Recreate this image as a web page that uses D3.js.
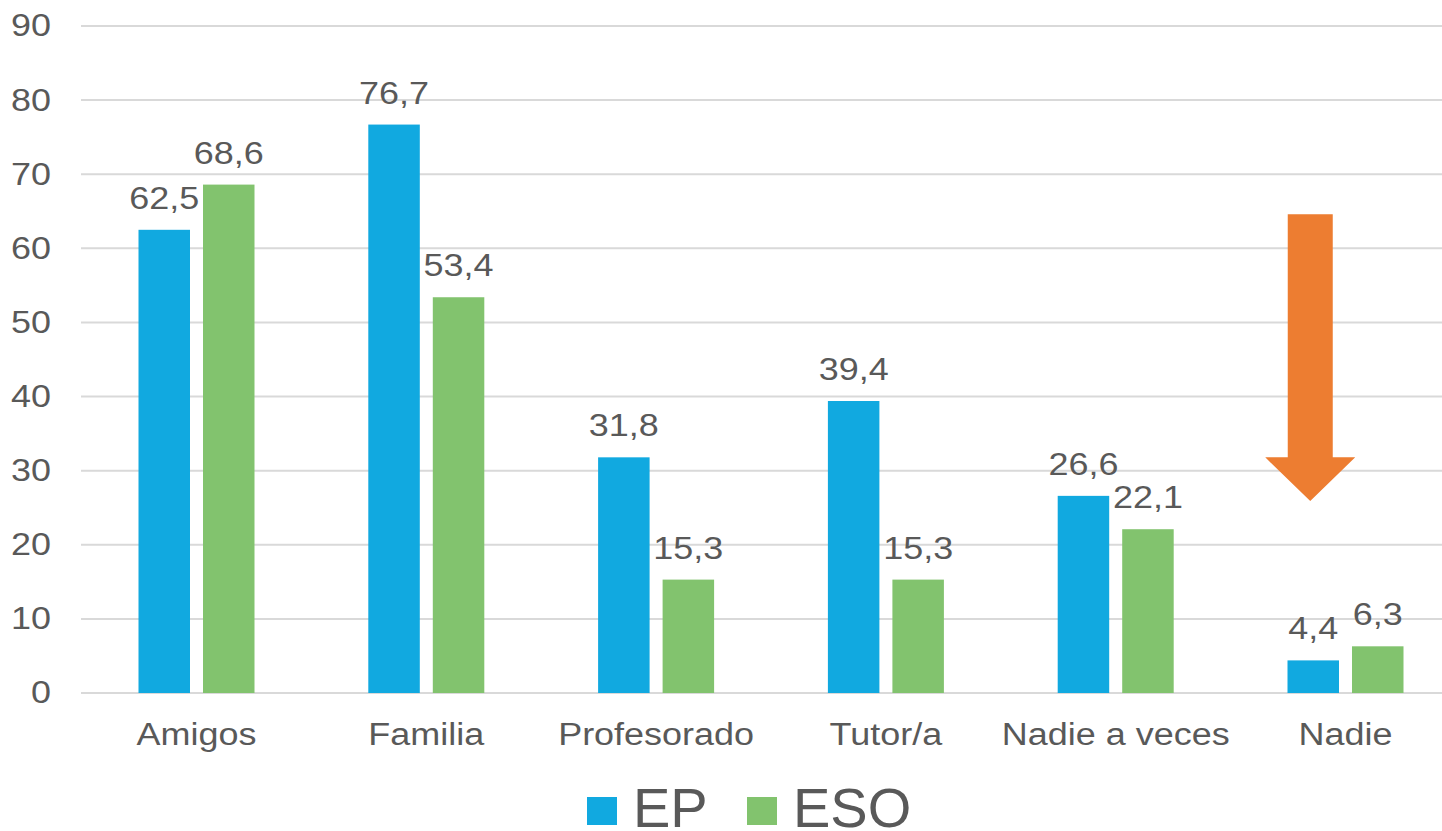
<!DOCTYPE html>
<html><head><meta charset="utf-8">
<script src="https://cdn.jsdelivr.net/npm/d3@7"></script>
<style>html,body{margin:0;padding:0;background:#fff;} svg{display:block;font-family:"Liberation Sans",Arial,sans-serif;}</style>
</head><body><div id="chart"></div>
<script>
const categories = ["Amigos","Familia","Profesorado","Tutor/a","Nadie a veces","Nadie"];
const seriesNames = ["EP","ESO"];
const EP = [62.5,76.7,31.8,39.4,26.6,4.4];
const ESO = [68.6,53.4,15.3,15.3,22.1,6.3];
const yTicks = [0,10,20,30,40,50,60,70,80,90];
const colors = {EP:"#11A9E0", ESO:"#82C36E"};
const arrowValues = {top:64.6, headTop:31.8, tip:25.9};

const W=1442,H=831, SX=1.16, FS=31;
const svg=d3.select("#chart").append("svg").attr("width",W).attr("height",H);
const x0=d3.scaleBand().domain(categories).range([81.6,1460.4]);
const x1=d3.scaleBand().domain(seriesNames).range([x0.bandwidth()/2-58, x0.bandwidth()/2+58]).paddingInner(0.2016);
const y=d3.scaleLinear().domain([0,90]).range([693,26]);
const txt="#595959";

// gridlines
svg.append("g").selectAll("line").data(yTicks).join("line")
  .attr("x1",81).attr("x2",W).attr("y1",d=>y(d)).attr("y2",d=>y(d))
  .attr("stroke","#d9d9d9").attr("stroke-width",2);

// y axis labels
const yAxis=d3.axisLeft(y).tickValues(yTicks).tickSize(0).tickPadding(0);
const ya=svg.append("g").attr("transform","translate(51,0)").call(yAxis);
ya.select(".domain").remove();
ya.selectAll("text").attr("fill",txt).attr("x",0).attr("transform",`scale(${SX},1)`)
  .style("font-size",FS+"px").style("font-family","Liberation Sans, Arial, sans-serif");

// x axis labels
const xAxis=d3.axisBottom(x0).tickSize(0).tickPadding(0);
const xa=svg.append("g").attr("transform","translate(0,723)").call(xAxis);
xa.select(".domain").remove();
xa.selectAll("text").attr("fill",txt).attr("transform",`scale(${SX},1)`)
  .style("font-size",FS+"px").style("font-family","Liberation Sans, Arial, sans-serif");

const data=categories.map((c,i)=>({cat:c, vals:[{s:"EP",v:EP[i]},{s:"ESO",v:ESO[i]}]}));
const groups=svg.append("g").selectAll("g").data(data).join("g").attr("transform",d=>`translate(${x0(d.cat)},0)`);
groups.selectAll("rect").data(d=>d.vals).join("rect")
  .attr("x",d=>x1(d.s)).attr("width",x1.bandwidth())
  .attr("y",d=>y(d.v)).attr("height",d=>y(0)-y(d.v))
  .attr("fill",d=>colors[d.s]);
groups.selectAll("text").data(d=>d.vals).join("text")
  .attr("transform",d=>`translate(${x1(d.s)+x1.bandwidth()/2},${y(d.v)-21}) scale(${SX},1)`)
  .attr("text-anchor","middle").attr("fill",txt).style("font-size",FS+"px")
  .text(d=>d3.format(".1f")(d.v).replace(".",","));

// arrow annotation
const cx=x0("Nadie")+x1("EP")+x1.bandwidth()/2-3;
const pts=[[cx-22.5,y(arrowValues.top)],[cx+22.5,y(arrowValues.top)],[cx+22.5,y(arrowValues.headTop)],[cx+45,y(arrowValues.headTop)],
  [cx,y(arrowValues.tip)],[cx-45,y(arrowValues.headTop)],[cx-22.5,y(arrowValues.headTop)]];
svg.append("polygon").attr("points",pts.map(p=>p.join(",")).join(" ")).attr("fill","#ED7D31");

// legend
const leg=svg.append("g");
const legItems=[{s:"EP",x:587},{s:"ESO",x:747}];
legItems.forEach(it=>{
  leg.append("rect").attr("x",it.x).attr("y",797).attr("width",30).attr("height",28).attr("fill",colors[it.s]);
  leg.append("text").attr("x",it.x+46).attr("y",827).attr("fill",txt).style("font-size","56px").text(it.s);
});
</script></body></html>
